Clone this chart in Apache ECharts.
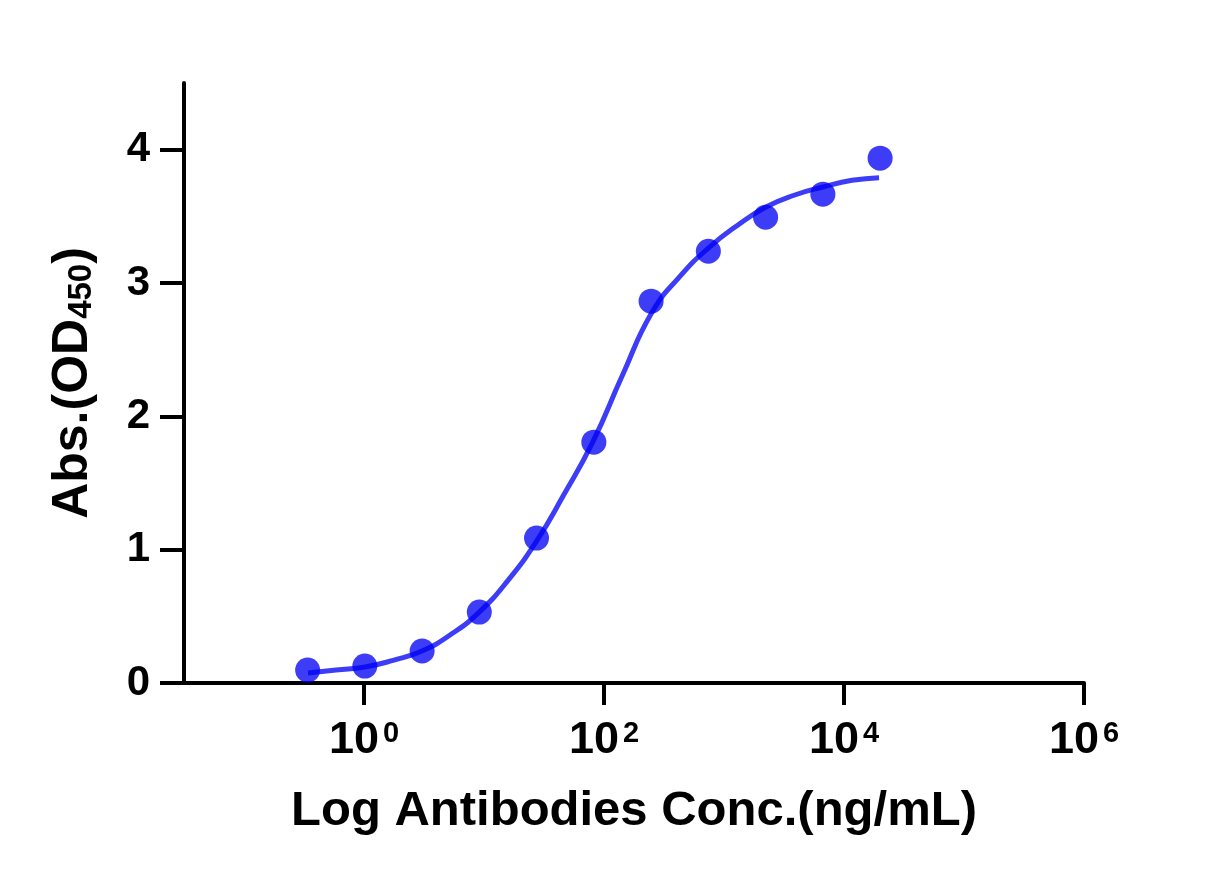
<!DOCTYPE html>
<html><head><meta charset="utf-8">
<script src="https://cdn.jsdelivr.net/npm/echarts@6/dist/echarts.min.js"></script>
<style>html,body{margin:0;padding:0;background:#fff}#c{width:1227px;height:887px}</style>
</head><body><div id="c"></div>
<script>
// Measured data (concentration in ng/mL, absorbance OD450)
const concentrations = [0.339, 1.016, 3.05, 9.14, 27.4, 82.3, 246.9, 740.7, 2222, 6667, 20000];
const absorbance = [0.097, 0.127, 0.24, 0.532, 1.087, 1.806, 2.864, 3.238, 3.493, 3.666, 3.936];
// Fitted curve (log10 concentration, absorbance)
const fitLog10Conc = [-0.467, -0.233, 0.008, 0.25, 0.483, 0.717, 0.958, 1.2, 1.442, 1.658, 1.908, 2.15, 2.4, 2.633, 2.867, 3.108, 3.35, 3.59, 3.825, 4.067, 4.292];
const fitAbsorbance = [0.075, 0.098, 0.12, 0.172, 0.24, 0.36, 0.53, 0.77, 1.07, 1.40, 1.81, 2.30, 2.78, 3.05, 3.26, 3.43, 3.57, 3.66, 3.72, 3.77, 3.79];
const xTickExponents = [0, 2, 4, 6];
const yTicks = [0, 1, 2, 3, 4];

const blue = 'rgba(0,0,245,0.76)';
const FONT = '"Liberation Sans", Arial, sans-serif';

const chart = echarts.init(document.getElementById('c'), null, {renderer: 'canvas'});
chart.setOption({
  animation: false,
  backgroundColor: '#fff',
  grid: {left: 184, right: 143, top: 83, bottom: 204},
  xAxis: {
    type: 'value', min: -1.5, max: 6,
    name: 'Log Antibodies Conc.(ng/mL)',
    nameLocation: 'middle', nameGap: 104,
    nameTextStyle: {fontFamily: FONT, fontWeight: 'bold', fontSize: 49, color: '#000', lineHeight: 48},
    axisLine: {show: true, onZero: false, lineStyle: {color: '#000', width: 4}},
    axisTick: {show: true, inside: false, length: 22, lineStyle: {color: '#000', width: 4}, customValues: xTickExponents},
    splitLine: {show: false},
    axisLabel: {
      margin: 36, customValues: xTickExponents,
      formatter: v => '{b|10}{s|' + Math.round(v) + '}',
      rich: {
        b: {fontFamily: FONT, fontWeight: 'bold', fontSize: 45, color: '#000', lineHeight: 44},
        s: {fontFamily: FONT, fontWeight: 'bold', fontSize: 29, color: '#000', lineHeight: 27, verticalAlign: 'top', padding: [0, 0, 0, 4]}
      }
    }
  },
  yAxis: {
    type: 'value', min: 0, max: 4.5,
    name: '{a|Abs.(OD}{s|450}{a|)}',
    nameLocation: 'middle', nameGap: 86, nameRotate: 90,
    nameTextStyle: {
      rich: {
        a: {fontFamily: FONT, fontWeight: 'bold', fontSize: 50, color: '#000', lineHeight: 50, verticalAlign: 'bottom'},
        s: {fontFamily: FONT, fontWeight: 'bold', fontSize: 33, color: '#000', lineHeight: 26, verticalAlign: 'bottom'}
      }
    },
    axisLine: {show: true, onZero: false, lineStyle: {color: '#000', width: 4}},
    axisTick: {show: true, inside: false, length: 24, lineStyle: {color: '#000', width: 4}, customValues: yTicks},
    splitLine: {show: false},
    axisLabel: {
      margin: 34, customValues: yTicks,
      fontFamily: FONT, fontWeight: 'bold', fontSize: 42, color: '#000'
    }
  },
  series: [
    {
      type: 'line', name: 'fit',
      data: fitLog10Conc.map((x, i) => [x, fitAbsorbance[i]]),
      smooth: 0.5,
      showSymbol: false, symbol: 'none',
      lineStyle: {color: blue, width: 5, opacity: 1},
      z: 2
    },
    {
      type: 'scatter', name: 'data',
      data: concentrations.map((c, i) => [Math.log10(c), absorbance[i]]),
      symbol: 'circle', symbolSize: 25,
      itemStyle: {color: blue, opacity: 1},
      z: 3
    }
  ]
});
</script>
</body></html>
